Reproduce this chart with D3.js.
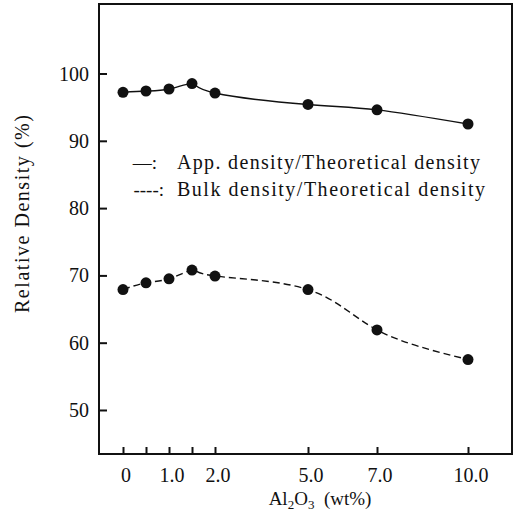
<!DOCTYPE html>
<html>
<head>
<meta charset="utf-8">
<script src="https://cdnjs.cloudflare.com/ajax/libs/d3/7.8.5/d3.min.js"></script>
<style>
    body { margin: 0; background: #fff; }
    svg text { font-family: "Liberation Serif", "DejaVu Serif", serif; }
</style>
</head>
<body>
<div id="chart"></div>
<script>
// data
var al2o3 = [0, 0.5, 1.0, 1.5, 2.0, 5.0, 7.0, 10.0];
var appDensity = [97.2, 97.4, 97.7, 98.5, 97.1, 95.4, 94.6, 92.5];
var bulkDensity = [67.9, 68.9, 69.5, 70.8, 69.9, 67.9, 61.9, 57.5];

var xTickValues = [0, 0.5, 1.0, 1.5, 2.0, 5.0, 7.0, 10.0];
var xTickLabels = ["0", "", "1.0", "", "2.0", "5.0", "7.0", "10.0"];
var yTickValues = [50, 60, 70, 80, 90, 100];

var legendPrefix = ["\u2014:", "----:"];
var legendLabels = ["App.  density/Theoretical  density", "Bulk  density/Theoretical  density"];

var width = 516, height = 515;
var box = { left: 99, right: 512, top: 4, bottom: 454 };

var svg = d3.select("#chart").append("svg")
    .attr("width", width)
    .attr("height", height);

// the x axis in the original is not linear (0-2 is stretched)
var xScale = d3.scaleLinear()
    .domain([0, 2, 5, 7, 10])
    .range([123, 215, 308, 377, 468]);

var yScale = d3.scaleLinear()
    .domain([43.46, 110.33])
    .range([box.bottom, box.top]);

// frame
svg.append("rect")
    .attr("x", box.left)
    .attr("y", box.top)
    .attr("width", box.right - box.left)
    .attr("height", box.bottom - box.top)
    .attr("fill", "none")
    .attr("stroke", "#111")
    .attr("stroke-width", 2);

// y axis, ticks pointing inward
var yAxis = svg.append("g")
    .attr("transform", "translate(" + box.left + ",0)")
    .call(d3.axisRight(yScale)
        .tickValues(yTickValues)
        .tickSize(8)
        .tickFormat(""));
yAxis.select(".domain").remove();
yAxis.selectAll(".tick line").attr("stroke", "#111").attr("stroke-width", 2);

svg.append("g").selectAll("text")
    .data(yTickValues)
    .enter()
    .append("text")
    .attr("x", 89)
    .attr("y", function(d) { return yScale(d) + 7; })
    .attr("text-anchor", "end")
    .attr("fill", "#111")
    .style("font-size", "20px")
    .text(function(d) { return d; });

// x axis, ticks pointing inward
var xAxis = svg.append("g")
    .attr("transform", "translate(0," + box.bottom + ")")
    .call(d3.axisTop(xScale)
        .tickValues(xTickValues)
        .tickSize(7)
        .tickFormat(""));
xAxis.select(".domain").remove();
xAxis.selectAll(".tick line").attr("stroke", "#111").attr("stroke-width", 2);

svg.append("g").selectAll("text")
    .data(xTickValues)
    .enter()
    .append("text")
    .attr("x", function(d) { return xScale(d) + 3; })
    .attr("y", 482)
    .attr("text-anchor", "middle")
    .attr("fill", "#111")
    .style("font-size", "20px")
    .text(function(d, i) { return xTickLabels[i]; });

// axis titles
var xTitle = svg.append("text")
    .attr("x", 320)
    .attr("y", 505)
    .attr("text-anchor", "middle")
    .attr("fill", "#111")
    .style("font-size", "19px");
xTitle.append("tspan").text("Al");
xTitle.append("tspan").attr("dy", 4).style("font-size", "13px").text("2");
xTitle.append("tspan").attr("dy", -4).text("O");
xTitle.append("tspan").attr("dy", 4).style("font-size", "13px").text("3");
xTitle.append("tspan").attr("dy", -4).text("\u00a0\u00a0(wt%)");

svg.append("text")
    .attr("transform", "translate(29,214) rotate(-90)")
    .attr("text-anchor", "middle")
    .attr("textLength", 198)
    .attr("lengthAdjust", "spacing")
    .attr("fill", "#111")
    .style("font-size", "20px")
    .text("Relative  Density  (%)");

// series, natural spline keeps the curve smooth across the uneven x spacing
var line = d3.line()
    .x(function(d) { return xScale(d.x); })
    .y(function(d) { return yScale(d.y); })
    .curve(d3.curveNatural);

function drawSeries(values, dash) {
    var pts = al2o3.map(function(x, i) { return { x: x, y: values[i] }; });
    svg.append("path")
        .datum(pts)
        .attr("d", line)
        .attr("fill", "none")
        .attr("stroke", "#111")
        .attr("stroke-width", 1.4)
        .attr("stroke-dasharray", dash);
    svg.append("g").selectAll("circle")
        .data(pts)
        .enter()
        .append("circle")
        .attr("cx", function(d) { return xScale(d.x); })
        .attr("cy", function(d) { return yScale(d.y); })
        .attr("r", 5.5)
        .attr("fill", "#111");
}
drawSeries(appDensity, null);
drawSeries(bulkDensity, "7,4");

// legend
var legendY = [169, 196];
var prefixX = [157, 164];
var legendLen = [303, 308];
legendLabels.forEach(function(label, i) {
    svg.append("text")
        .attr("x", prefixX[i])
        .attr("y", legendY[i])
        .attr("text-anchor", "end")
        .attr("fill", "#111")
        .style("font-size", "19px")
        .text(legendPrefix[i]);
    svg.append("text")
        .attr("x", 177)
        .attr("y", legendY[i])
        .attr("textLength", legendLen[i])
        .attr("lengthAdjust", "spacing")
        .attr("fill", "#111")
        .style("font-size", "20px")
        .text(label);
});
</script>
</body>
</html>
